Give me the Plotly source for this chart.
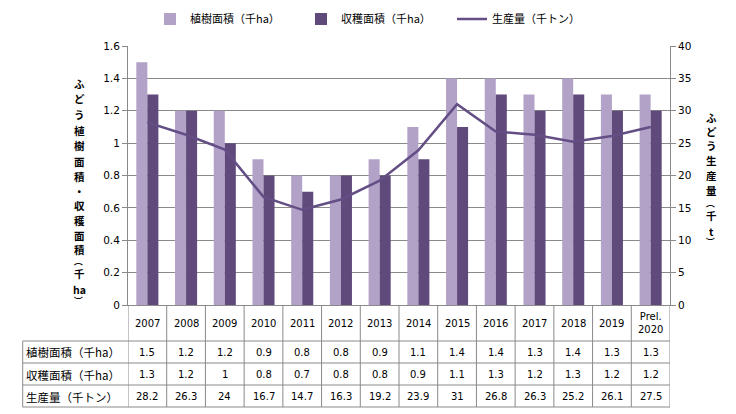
import plotly.graph_objects as go

years = ["2007", "2008", "2009", "2010", "2011", "2012", "2013", "2014",
         "2015", "2016", "2017", "2018", "2019", "Prel.<br>2020"]
planted_area = [1.5, 1.2, 1.2, 0.9, 0.8, 0.8, 0.9, 1.1, 1.4, 1.4, 1.3, 1.4, 1.3, 1.3]
harvested_area = [1.3, 1.2, 1, 0.8, 0.7, 0.8, 0.8, 0.9, 1.1, 1.3, 1.2, 1.3, 1.2, 1.2]
production = [28.2, 26.3, 24, 16.7, 14.7, 16.3, 19.2, 23.9, 31, 26.8, 26.3, 25.2, 26.1, 27.5]

name_planted = "植樹面積（千ha）"
name_harvested = "収穫面積（千ha）"
name_production = "生産量（千トン）"

# vertical axis titles, one entry per stacked glyph ("（" / "）" are drawn rotated)
left_title = ["ふ", "ど", "う", "植", "樹", "面", "積", "・", "収", "穫", "面", "積", "（", "千", "ha", "）"]
right_title = ["ふ", "ど", "う", "生", "産", "量", "（", "千", "t", "）"]

W, H = 736, 414
L, R, T, B = 128, 66, 46, 109
PW, PH = W - L - R, H - T - B

def px(x):
    return (x - L) / PW

def py(y):
    return (T + PH - y) / PH

C_LIGHT = "#b3a2c7"
C_DARK = "#604a7b"
C_LINE = "#634e85"
GRID = "#8a8a8a"
FONT = "DejaVu Sans, Noto Sans CJK JP, sans-serif"
JFONT = "Noto Sans CJK JP, DejaVu Sans, sans-serif"

fig = go.Figure()
fig.add_trace(go.Bar(x=years, y=planted_area, name=name_planted,
                     marker=dict(color=C_LIGHT, line=dict(width=0))))
fig.add_trace(go.Bar(x=years, y=harvested_area, name=name_harvested,
                     marker=dict(color=C_DARK, line=dict(width=0))))
fig.add_trace(go.Scatter(x=years, y=production, name=name_production, yaxis="y2",
                         mode="lines", line=dict(color=C_LINE, width=2.5)))

shapes = []
for yp in [341, 363, 385, 407]:
    shapes.append(dict(type="line", xref="paper", yref="paper",
                       x0=px(22.7), x1=1, y0=py(yp), y1=py(yp),
                       line=dict(color=GRID, width=1)))
for i in range(len(years) + 1):
    shapes.append(dict(type="line", xref="x", yref="paper",
                       x0=i - 0.5, x1=i - 0.5, y0=py(305), y1=py(407),
                       line=dict(color=GRID, width=1)))
shapes.append(dict(type="line", xref="paper", yref="paper",
                   x0=px(22.7), x1=px(22.7), y0=py(341), y1=py(407),
                   line=dict(color=GRID, width=1)))

annotations = []
for i, yr in enumerate(years):
    annotations.append(dict(x=i, xref="x", y=py(323), yref="paper", text=yr,
                            showarrow=False, xanchor="center", yanchor="middle",
                            font=dict(family=FONT, size=10, color="#000")))
rows = [(name_planted, planted_area, 352), (name_harvested, harvested_area, 374.5),
        (name_production, production, 396.5)]
for label, vals, yc in rows:
    annotations.append(dict(x=px(24), xref="paper", y=py(yc), yref="paper", text=label,
                            showarrow=False, xanchor="left", yanchor="middle",
                            font=dict(family=JFONT, size=11.5, color="#000")))
    for i, v in enumerate(vals):
        annotations.append(dict(x=i, xref="x", y=py(yc), yref="paper", text=str(v),
                                showarrow=False, xanchor="center", yanchor="middle",
                                font=dict(family=FONT, size=10, color="#000")))

def add_vertical_title(chars, ys, xc):
    for ch, yp in zip(chars, ys):
        paren = ch in ("（", "）")
        annotations.append(dict(x=px(xc), xref="paper", y=py(yp), yref="paper",
                                text="<b>%s</b>" % ch, showarrow=False,
                                xanchor="center", yanchor="middle",
                                textangle=90 if paren else 0,
                                font=dict(family=JFONT, size=9 if paren else 10.5,
                                          color="#000")))

add_vertical_title(left_title,
                   [83, 98, 114, 130, 145, 161, 176, 191, 205, 220, 235, 249.5, 261, 273, 289, 300],
                   79)
add_vertical_title(right_title,
                   [117, 131, 145, 160, 175, 190, 203, 215, 231, 241],
                   711)

fig.update_layout(
    width=W, height=H, autosize=False,
    margin=dict(l=L, r=R, t=T, b=B, autoexpand=False),
    paper_bgcolor="white", plot_bgcolor="white",
    barmode="group", bargap=0.43, bargroupgap=0,
    showlegend=True,
    legend=dict(orientation="h", x=px(150), xanchor="left", y=py(19), yanchor="middle",
                font=dict(family=JFONT, size=11, color="#000"),
                itemwidth=30, tracegroupgap=0, entrywidth=106, entrywidthmode="pixels",
                bgcolor="rgba(0,0,0,0)"),
    xaxis=dict(type="category", range=[-0.5, len(years) - 0.5], showticklabels=False,
               ticks="", showgrid=False, showline=True, linecolor=GRID, linewidth=1,
               zeroline=False, fixedrange=True),
    yaxis=dict(range=[0, 1.6], dtick=0.2, tick0=0, showgrid=True, gridcolor=GRID,
               gridwidth=1, ticks="outside", ticklen=5, tickcolor=GRID, showline=True,
               linecolor=GRID, linewidth=1, zeroline=False,
               tickfont=dict(family=FONT, size=10.5, color="#000")),
    yaxis2=dict(range=[0, 40], dtick=5, tick0=0, overlaying="y", side="right",
                showgrid=False, ticks="outside", ticklen=5, tickcolor=GRID, showline=True,
                linecolor=GRID, linewidth=1, zeroline=False,
                tickfont=dict(family=FONT, size=10.5, color="#000")),
    shapes=shapes, annotations=annotations,
)

fig.write_html("out.html", config={"displayModeBar": False},
               post_script="document.body.style.margin='0';")
